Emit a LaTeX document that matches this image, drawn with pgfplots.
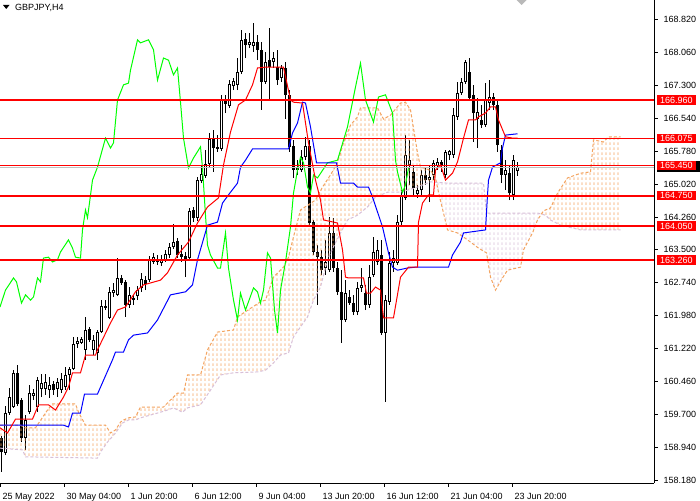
\documentclass[border=0pt]{standalone}
\usepackage{fontspec}
\setmainfont{Liberation Sans}
\usepackage{pgfplots}
\usepackage{pgfplotstable}
\pgfplotsset{compat=1.18}
\usetikzlibrary{patterns}
\definecolor{sandybrown}{HTML}{F4A460}
\definecolor{thistle}{HTML}{D8BFD8}
\definecolor{mtlime}{HTML}{00FF00}
\definecolor{mtred}{HTML}{FF0000}
\definecolor{mtblue}{HTML}{0000FF}
\definecolor{mtgrey}{HTML}{C0C0C0}
\pgfdeclarepatternformonly{mthatch}{\pgfqpoint{0pt}{0pt}}{\pgfqpoint{4pt}{5pt}}{\pgfqpoint{4pt}{5pt}}{%
  \pgfsetlinewidth{1.15pt}%
  \pgfpathmoveto{\pgfqpoint{2.5pt}{0pt}}%
  \pgfpathlineto{\pgfqpoint{2.5pt}{3pt}}%
  \pgfusepath{stroke}}

\pgfplotstableread{
i O H L C
0 159.15 159.20 158.37 158.83
1 158.81 159.89 158.76 159.73
2 159.73 160.31 159.69 160.10
3 159.87 160.72 159.85 160.66
4 160.66 160.84 159.89 159.94
5 160.03 160.08 159.06 159.15
6 159.15 159.69 158.88 159.57
7 159.75 160.38 159.71 160.19
8 160.12 160.29 160.03 160.19
9 159.87 160.56 159.75 160.49
10 160.29 160.63 160.10 160.42
11 160.29 160.63 160.15 160.45
12 160.26 160.56 160.08 160.38
13 160.40 160.47 160.15 160.26
14 160.29 160.54 160.10 160.45
15 160.26 160.66 160.19 160.52
16 160.33 160.79 160.26 160.61
17 160.61 160.79 160.26 160.75
18 160.75 161.49 160.72 161.33
19 161.33 161.49 161.23 161.39
20 161.35 161.49 161.33 161.44
21 161.19 161.95 160.96 161.65
22 161.67 161.72 161.37 161.42
23 161.19 161.53 161.07 161.42
24 161.12 161.65 160.96 161.60
25 161.60 162.34 161.58 162.20
26 162.20 162.34 162.11 162.16
27 161.93 162.64 161.90 162.53
28 162.50 162.73 162.41 162.57
29 162.46 163.31 162.43 162.85
30 162.85 162.92 162.69 162.73
31 162.76 162.80 161.95 162.23
32 162.23 162.64 162.16 162.46
33 162.39 162.46 162.23 162.34
34 162.43 162.66 162.34 162.57
35 162.62 162.97 162.53 162.83
36 162.80 162.90 162.57 162.71
37 162.80 163.36 162.76 163.27
38 163.22 163.43 163.17 163.33
39 163.22 163.38 163.15 163.29
40 163.20 163.38 163.13 163.27
41 163.27 163.50 163.22 163.40
42 163.38 163.66 163.31 163.57
43 163.57 164.10 163.52 163.68
44 163.70 163.77 163.31 163.38
45 163.40 163.61 163.22 163.33
46 163.36 163.45 162.87 163.29
47 163.31 164.47 163.27 164.40
48 164.42 164.49 164.14 164.24
49 164.24 165.18 164.17 165.11
50 165.09 165.46 165.04 165.25
51 165.21 165.81 165.16 165.48
52 165.48 166.20 165.41 166.06
53 166.06 166.27 165.30 165.85
54 165.88 166.15 165.76 165.83
55 165.83 167.08 165.78 166.96
56 166.96 167.08 166.66 166.87
57 166.82 167.42 166.78 167.33
58 167.28 167.47 167.19 167.40
59 167.31 167.93 167.19 167.61
60 167.61 168.58 167.56 168.35
61 168.37 168.51 167.93 168.23
62 168.23 168.51 168.16 168.30
63 168.21 168.74 168.07 168.30
64 168.30 168.46 167.88 168.12
65 168.12 168.30 166.73 167.38
66 167.38 168.07 167.33 167.84
67 167.88 168.62 166.96 167.72
68 167.84 168.07 167.70 167.93
69 167.72 168.12 167.31 167.42
70 167.47 167.77 167.38 167.70
71 167.70 167.84 166.52 167.08
72 167.08 167.19 165.76 165.88
73 165.90 166.04 165.16 165.34
74 165.41 165.57 165.23 165.34
75 165.34 165.81 165.30 165.64
76 165.64 166.11 165.57 165.90
77 165.90 166.04 164.07 164.12
78 164.14 164.19 163.38 163.45
79 163.45 163.61 162.23 163.33
80 163.33 163.50 162.92 163.03
81 163.08 163.73 162.92 163.22
82 163.03 164.26 162.99 163.89
83 163.89 164.24 162.99 163.08
84 163.08 163.22 162.46 162.53
85 162.53 163.03 161.35 161.88
86 161.88 162.80 161.83 162.50
87 162.41 162.57 162.23 162.27
88 162.27 162.46 161.99 162.06
89 162.06 162.76 161.99 162.62
90 162.62 163.08 162.53 162.69
91 162.50 162.69 162.11 162.23
92 162.23 163.15 162.16 162.87
93 162.92 163.80 162.87 163.45
94 163.22 163.73 163.15 163.50
95 163.38 163.73 161.53 161.58
96 161.58 162.46 159.99 162.34
97 162.29 163.45 162.23 163.20
98 163.20 163.50 162.99 163.31
99 163.20 164.30 163.15 164.14
100 164.14 164.88 164.07 164.77
101 164.70 166.15 164.65 165.69
102 165.46 166.04 165.00 165.57
103 165.30 165.46 164.77 164.93
104 164.79 165.00 164.70 164.88
105 164.88 165.34 164.77 165.23
106 165.23 165.39 165.00 165.11
107 165.11 165.46 164.60 165.18
108 165.23 165.57 165.11 165.51
109 165.44 165.62 165.34 165.53
110 165.53 165.57 165.30 165.44
111 165.23 165.81 165.16 165.76
112 165.69 165.81 165.57 165.78
113 165.69 166.78 165.62 166.61
114 166.57 167.38 166.50 167.12
115 167.12 167.47 167.08 167.38
116 167.38 167.88 167.33 167.84
117 167.61 167.93 166.96 167.01
118 167.08 167.31 165.99 166.66
119 166.52 167.01 165.85 166.68
120 166.50 166.85 166.31 166.38
121 166.38 167.35 166.34 166.96
122 166.89 167.42 166.73 167.03
123 167.03 167.12 166.73 166.85
124 166.85 166.96 165.76 165.92
125 165.81 165.92 165.04 165.23
126 165.23 165.57 164.88 165.34
127 165.27 165.46 164.65 164.81
128 164.77 165.69 164.65 165.57
129 165.32 165.53 165.21 165.41
}\candles

\begin{document}
\begin{tikzpicture}
\useasboundingbox (0,0) rectangle (700pt,500pt);
\fill[white] (0,0) rectangle (700pt,500pt);
\fill[black] (656.5pt,327.5pt) rectangle (700pt,339pt);
\begin{axis}[
  at={(0pt,17pt)}, anchor=south west,
  scale only axis, width=654pt, height=483pt,
  xmin=-0.375, xmax=163.125, ymin=158.115, ymax=169.27,
  axis x line*=bottom, axis y line*=right,
  axis line style={black, line width=0.8pt, -},
  tick style={black, line width=0.8pt},
  major tick length=3.5pt, tick align=outside,
  xtick={-0.25,15.75,31.75,47.75,63.75,79.75,95.75,111.75,127.75},
  xticklabels={25 May 2022,30 May 04:00,1 Jun 20:00,6 Jun 12:00,9 Jun 04:00,13 Jun 20:00,16 Jun 12:00,21 Jun 04:00,23 Jun 20:00},
  xticklabel style={anchor=base west, inner sep=0pt, xshift=2pt, yshift=-12.5pt, font=\fontsize{9}{11}\selectfont},
  ytick={158.18,158.94,159.70,160.46,161.22,161.98,162.74,163.50,164.26,165.02,165.78,166.54,167.30,168.06,168.82},
  yticklabel style={anchor=west, inner xsep=6pt, inner ysep=0pt, font=\fontsize{9}{11}\selectfont},
  extra y ticks={166.96,166.075,165.45,164.75,164.05,163.26},
  extra y tick style={major tick length=0pt, yticklabel style={fill=mtred, text=white, inner xsep=3.3pt, inner ysep=1.5pt, text height=6.5pt, text depth=0pt, xshift=2.7pt}},
  /pgf/number format/fixed, /pgf/number format/fixed zerofill,
  /pgf/number format/precision=3, /pgf/number format/assume math mode=true,
]
% candle wicks
\addplot [draw=none, mark=none, error bars/.cd, y dir=plus, y explicit, error mark=none, error bar style={draw=black, line width=1pt}]
  table [x=i, y=L, y error expr=\thisrow{H}-\thisrow{L}] {\candles};
% bear bodies
\addplot [draw=none, mark=none, restrict expr to domain={\thisrow{O}-\thisrow{C}}{0:50}, error bars/.cd, y dir=plus, y explicit, error mark=none, error bar style={draw=black, line width=3pt}]
  table [x=i, y=C, y error expr=\thisrow{O}-\thisrow{C}] {\candles};
% bull bodies
\addplot [draw=none, mark=none, restrict expr to domain={\thisrow{C}-\thisrow{O}}{0:50}, error bars/.cd, y dir=plus, y explicit, error mark=none, error bar style={draw=black, line width=3pt}]
  table [x=i, y=O, y error expr=\thisrow{C}-\thisrow{O}] {\candles};
\addplot [draw=none, mark=none, restrict expr to domain={\thisrow{C}-\thisrow{O}}{0:50}, error bars/.cd, y dir=plus, y explicit, error mark=none, error bar style={draw=white, line width=1pt, shorten <=1pt, shorten >=1pt}]
  table [x=i, y=O, y error expr=\thisrow{C}-\thisrow{O}] {\candles};

% Kumo (cloud) areas: span A forward, span B backward
\addplot [pattern=mthatch, pattern color=sandybrown, draw=none] coordinates {
(-0.375,159.45)(4.75,159.45)(6,159.39)(8.5,159.39)(11.5,159.80)(12.75,159.94)(18.5,159.94)(19.25,159.75)(21,159.45)(26,159.45)(27.25,159.27)(28.5,159.34)(29.75,159.52)(30.5,159.57)(31.75,159.62)(33.5,159.64)(34.75,159.87)(40.5,159.87)(43,160.10)(44,160.19)(45.5,160.19)(46.5,160.61)(49.75,160.61)(51.5,161.19)(54,161.60)(58,161.65)(59,161.95)(64.75,162.30)(66,162.34)(68,162.87)(70.5,163.10)(71.75,163.33)(73,163.80)(74.75,164.42)(78.5,164.65)(80.25,164.95)(82.25,165.23)(84,165.51)(85.5,165.97)(87.25,166.38)(89,166.57)(89.75,166.78)(94,166.78)(95.5,166.52)(97.25,166.61)(99.75,166.89)(101,166.91)(102.25,166.73)(104,165.74)(104.75,165.41)(107.25,165.34)(108.5,165.16)(108.73,165.06)
(107.25,165.07)(104,164.95)(99.75,164.83)(96.5,164.83)(93.5,164.72)(91.5,164.49)(89,164.30)(86.5,164.19)(84.75,163.89)(83,163.57)(81.5,163.27)(79.75,162.64)(78,162.34)(76.5,161.95)(73,161.49)(71.75,161.12)(69.75,161.07)(68,160.89)(66,160.72)(64,160.68)(58,160.66)(54.75,160.61)(52.25,160.26)(49.75,159.92)(46.5,159.85)(45.25,159.75)(43,159.85)(41.5,159.80)(39,159.73)(34.75,159.62)(33.5,159.57)(31.75,159.57)(30.25,159.50)(28.5,159.27)(26.5,159.06)(24.75,158.83)(24,158.69)(6,158.72)(5.25,158.88)(-0.375,158.92)} -- cycle;
\addplot [pattern=mthatch, pattern color=thistle, draw=none] coordinates {
(108.73,165.06)(109.25,164.83)(110.5,164.35)(111.5,163.96)(114,163.89)(116.5,163.73)(119.25,163.54)(121.25,163.43)(122.25,162.87)(123.5,162.57)(125.25,162.85)(126.5,163.03)(129.75,163.10)(130.5,163.50)(132.75,163.89)(134,164.19)(134.96,164.32)
(134,164.35)(121.25,164.35)(120.5,165.04)(111.5,165.04)} -- cycle;
\addplot [pattern=mthatch, pattern color=sandybrown, draw=none] coordinates {
(134.96,164.32)(135.5,164.40)(137.25,164.47)(139,164.81)(141.5,165.16)(144.75,165.27)(147.25,165.30)(148,166.04)(150.5,165.99)(151.75,166.11)(154.75,166.11)
(154.75,163.96)(144.75,163.96)(139.75,164.07)(137.25,164.19)(136,164.30)} -- cycle;
% Senkou span A and B lines
\addplot [sandybrown, line width=1pt, dash pattern=on 3pt off 2pt] coordinates {
(-0.375,159.45)(4.75,159.45)(6,159.39)(8.5,159.39)(11.5,159.80)(12.75,159.94)(18.5,159.94)(19.25,159.75)(21,159.45)(26,159.45)(27.25,159.27)(28.5,159.34)(29.75,159.52)(30.5,159.57)(31.75,159.62)(33.5,159.64)(34.75,159.87)(40.5,159.87)(43,160.10)(44,160.19)(45.5,160.19)(46.5,160.61)(49.75,160.61)(51.5,161.19)(54,161.60)(58,161.65)(59,161.95)(64.75,162.30)(66,162.34)(68,162.87)(70.5,163.10)(71.75,163.33)(73,163.80)(74.75,164.42)(78.5,164.65)(80.25,164.95)(82.25,165.23)(84,165.51)(85.5,165.97)(87.25,166.38)(89,166.57)(89.75,166.78)(94,166.78)(95.5,166.52)(97.25,166.61)(99.75,166.89)(101,166.91)(102.25,166.73)(104,165.74)(104.75,165.41)(107.25,165.34)(108.5,165.16)(109.25,164.83)(110.5,164.35)(111.5,163.96)(114,163.89)(116.5,163.73)(119.25,163.54)(121.25,163.43)(122.25,162.87)(123.5,162.57)(125.25,162.85)(126.5,163.03)(129.75,163.10)(130.5,163.50)(132.75,163.89)(134,164.19)(135.5,164.40)(137.25,164.47)(139,164.81)(141.5,165.16)(144.75,165.27)(147.25,165.30)(148,166.04)(150.5,165.99)(151.75,166.11)(154.75,166.11)};
\addplot [thistle, line width=1pt, dash pattern=on 3pt off 2pt] coordinates {
(-0.375,158.92)(5.25,158.88)(6,158.72)(24,158.69)(24.75,158.83)(26.5,159.06)(28.5,159.27)(30.25,159.50)(31.75,159.57)(33.5,159.57)(34.75,159.62)(39,159.73)(41.5,159.80)(43,159.85)(45.25,159.75)(46.5,159.85)(49.75,159.92)(52.25,160.26)(54.75,160.61)(58,160.66)(64,160.68)(66,160.72)(68,160.89)(69.75,161.07)(71.75,161.12)(73,161.49)(76.5,161.95)(78,162.34)(79.75,162.64)(81.5,163.27)(83,163.57)(84.75,163.89)(86.5,164.19)(89,164.30)(91.5,164.49)(93.5,164.72)(96.5,164.83)(99.75,164.83)(104,164.95)(107.25,165.07)(111.5,165.04)(120.5,165.04)(121.25,164.35)(134,164.35)(136,164.30)(137.25,164.19)(139.75,164.07)(144.75,163.96)(154.75,163.96)};

% Chikou span
\addplot [mtlime, line width=1pt] coordinates {
(-0.375,162.18)(1,162.57)(3,162.85)(3.75,162.76)(5,162.27)(6,162.46)(7.25,162.34)(8,162.41)(9,162.85)(9.75,162.76)(10.5,163.31)(11.75,163.33)(12.75,163.22)(14,163.27)(14.75,163.45)(16.75,163.73)(17.75,163.54)(18.5,163.33)(19.75,163.31)(20.25,163.96)(21,164.42)(21.5,164.24)(22.75,165.11)(24,165.41)(26,166.08)(27.25,165.85)(28,165.97)(29,166.96)(30.5,167.31)(31.75,167.35)(32.25,167.65)(34,168.35)(34.75,168.28)(36.75,168.35)(38,168.12)(39,167.42)(40.5,167.93)(41.75,167.88)(43,167.54)(44,167.70)(44.75,166.91)(45.5,166.08)(46.75,165.39)(48,165.62)(49.75,165.88)(50.25,165.39)(51,164.30)(51.5,163.61)(52.25,163.38)(54,163.08)(54.75,163.08)(56,163.89)(56.75,163.08)(58,162.34)(59,161.88)(59.75,162.50)(61,162.11)(63,162.62)(64,162.53)(64.75,162.27)(65.5,162.57)(66.5,163.43)(67.25,163.31)(68.25,162.11)(69,161.58)(69.75,162.57)(71,163.22)(72.25,164.03)(73,164.81)(74,165.34)(74.75,165.64)(75.5,165.51)(76.5,164.95)(77.25,164.81)(78,165.23)(79,165.16)(81.5,165.51)(84,165.57)(86.5,166.34)(88.5,167.26)(89.75,167.81)(91,166.96)(93,166.45)(94.25,167.03)(96,167.08)(97.75,166.66)(98.5,165.57)(99,165.30)(100.25,164.83)(101,165.00)(101.75,165.39)};
% Kijun-sen
\addplot [mtblue, line width=1pt] coordinates {
(-0.375,159.45)(15.5,159.45)(16.75,159.41)(17.75,159.73)(19.75,159.73)(20.75,160.17)(24,160.17)(27.75,160.96)(28.5,161.14)(30.5,161.14)(31.75,161.42)(33,161.53)(36.5,161.58)(39,161.88)(42.25,162.46)(46,162.53)(47.75,162.69)(49,163.27)(51.5,164.07)(54,164.14)(55.25,164.58)(56.75,164.77)(59,165.04)(59.75,165.41)(61,165.57)(62.75,165.83)(71.75,165.83)(72.75,166.20)(74,166.43)(75.25,166.91)(76,166.89)(77.25,166.34)(78.75,165.51)(83.75,165.51)(84.75,165.04)(88,165.04)(89,164.95)(91.75,164.95)(92.75,164.72)(95.25,164.03)(96.75,163.43)(97.75,163.10)(99,163.03)(101.5,163.08)(103.5,163.10)(111.75,163.10)(112.75,163.38)(114.75,163.68)(115.5,163.89)(121,163.96)(121.5,164.77)(121.75,165.11)(122.75,165.41)(124.75,165.51)(125.25,165.85)(126,166.15)(129,166.18)};
% Tenkan-sen
\addplot [mtred, line width=1pt] coordinates {
(-0.375,159.39)(1.5,159.27)(3.5,159.59)(7.75,159.59)(9.25,159.92)(11.75,159.92)(13.5,159.80)(15.5,160.10)(16.75,160.33)(17.75,160.66)(19.75,160.66)(21,161.07)(23.5,161.07)(24,161.19)(27.25,161.81)(29,162.11)(31,162.18)(33.5,162.53)(35.5,162.69)(39.75,162.80)(41.5,162.97)(44,163.38)(46.75,163.68)(49,164.12)(51.5,164.49)(54.25,164.70)(55.5,165.46)(57.25,166.22)(59.25,166.85)(61,166.96)(62.75,167.31)(64,167.70)(66,167.72)(70.5,167.72)(72.25,166.96)(73,166.91)(75.25,166.89)(76.75,165.97)(78.5,165.11)(79.75,164.65)(80.5,164.19)(84,164.12)(85.25,163.50)(86,162.87)(86.75,162.85)(90.5,162.85)(91.25,162.50)(92.25,162.50)(93.5,162.64)(94.75,162.57)(95.5,161.93)(98,161.93)(99.75,162.87)(101.75,163.10)(104,163.10)(104.25,164.14)(105.25,164.58)(106.75,164.77)(108,164.77)(108.5,165.34)(109.75,165.46)(111,165.11)(112.75,165.27)(114,165.53)(115.5,166.08)(116.75,166.50)(118.5,166.50)(119.25,166.57)(121,166.66)(122.25,166.80)(123.5,166.80)(124.25,166.50)(126,166.11)(127.75,166.08)(129,166.08)};

% bid line and horizontal levels
\addplot [mtgrey, line width=1pt] coordinates {(-0.375,165.41) (163.125,165.41)};
\addplot [mtred, line width=1.6pt] coordinates {(-0.375,166.96) (163.125,166.96)};
\addplot [mtred, line width=1.6pt] coordinates {(-0.375,166.075) (163.125,166.075)};
\addplot [mtred, line width=1.6pt] coordinates {(-0.375,165.45) (163.125,165.45)};
\addplot [mtred, line width=1.6pt] coordinates {(-0.375,164.75) (163.125,164.75)};
\addplot [mtred, line width=1.6pt] coordinates {(-0.375,164.05) (163.125,164.05)};
\addplot [mtred, line width=1.6pt] coordinates {(-0.375,163.26) (163.125,163.26)};
\end{axis}
\fill[black] (3pt,495pt) -- (9.5pt,495pt) -- (6.25pt,491pt) -- cycle;
\node[anchor=west, inner sep=0pt, font=\fontsize{9}{11}\selectfont] at (15pt,492.5pt) {GBPJPY,H4};
\fill[gray!55] (516.5pt,500pt) -- (526.5pt,500pt) -- (521.5pt,495pt) -- cycle;
\end{tikzpicture}
\end{document}
